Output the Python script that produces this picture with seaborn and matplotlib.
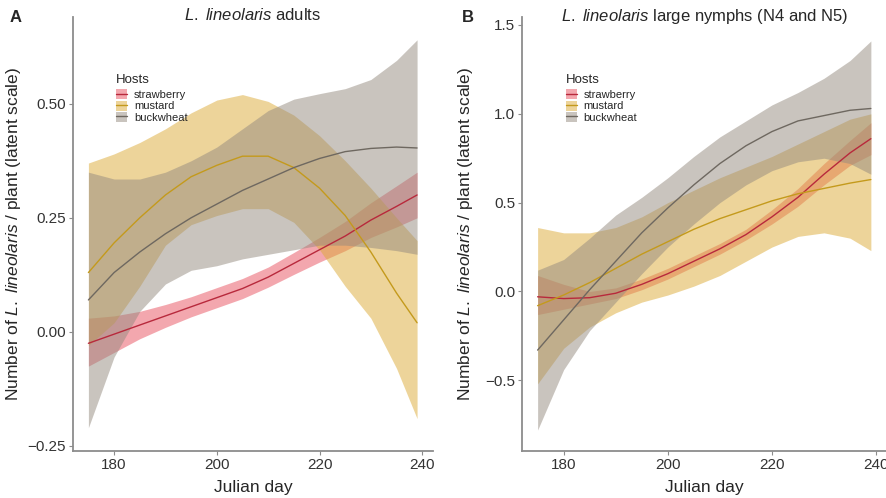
#!/usr/bin/env python3

import pandas as pd
import seaborn as sns
import matplotlib.pyplot as plt
from matplotlib.patches import Patch
from matplotlib.lines import Line2D

days = [175, 180, 185, 190, 195, 200, 205, 210, 215, 220, 225, 230, 235, 239]
hosts = ["strawberry", "mustard", "buckwheat"]

# panel A: adults
a_straw_fit = [-0.025, -0.005, 0.015, 0.035, 0.055, 0.075, 0.095, 0.12, 0.15, 0.18, 0.21, 0.245, 0.275, 0.30]
a_straw_lo = [-0.075, -0.045, -0.015, 0.010, 0.033, 0.053, 0.073, 0.098, 0.126, 0.153, 0.178, 0.207, 0.230, 0.250]
a_straw_hi = [0.030, 0.035, 0.045, 0.060, 0.077, 0.097, 0.117, 0.142, 0.174, 0.207, 0.242, 0.283, 0.320, 0.350]
a_must_fit = [0.13, 0.195, 0.25, 0.30, 0.34, 0.365, 0.385, 0.385, 0.36, 0.315, 0.255, 0.175, 0.085, 0.02]
a_must_lo = [-0.03, 0.02, 0.10, 0.19, 0.235, 0.255, 0.27, 0.27, 0.24, 0.18, 0.10, 0.03, -0.08, -0.19]
a_must_hi = [0.37, 0.39, 0.415, 0.445, 0.48, 0.508, 0.52, 0.505, 0.475, 0.43, 0.375, 0.315, 0.25, 0.20]
a_buck_fit = [0.07, 0.13, 0.175, 0.215, 0.25, 0.28, 0.31, 0.335, 0.36, 0.38, 0.395, 0.402, 0.405, 0.403]
a_buck_lo = [-0.21, -0.055, 0.045, 0.105, 0.135, 0.145, 0.16, 0.17, 0.18, 0.19, 0.19, 0.185, 0.178, 0.17]
a_buck_hi = [0.35, 0.335, 0.335, 0.35, 0.375, 0.405, 0.445, 0.485, 0.51, 0.522, 0.533, 0.553, 0.595, 0.64]

# panel B: large nymphs
b_straw_fit = [-0.03, -0.04, -0.035, -0.01, 0.04, 0.10, 0.17, 0.24, 0.32, 0.42, 0.53, 0.66, 0.78, 0.86]
b_straw_lo = [-0.13, -0.10, -0.07, -0.04, 0.01, 0.07, 0.14, 0.21, 0.29, 0.38, 0.48, 0.60, 0.71, 0.77]
b_straw_hi = [0.09, 0.04, 0.0, 0.02, 0.07, 0.13, 0.20, 0.27, 0.35, 0.46, 0.58, 0.72, 0.85, 0.95]
b_must_fit = [-0.08, -0.02, 0.05, 0.13, 0.21, 0.28, 0.35, 0.41, 0.46, 0.51, 0.55, 0.58, 0.61, 0.63]
b_must_lo = [-0.52, -0.32, -0.20, -0.12, -0.06, -0.02, 0.03, 0.09, 0.17, 0.25, 0.31, 0.33, 0.30, 0.23]
b_must_hi = [0.36, 0.33, 0.33, 0.36, 0.42, 0.50, 0.57, 0.64, 0.70, 0.76, 0.83, 0.90, 0.97, 1.00]
b_buck_fit = [-0.33, -0.16, 0.01, 0.17, 0.33, 0.47, 0.60, 0.72, 0.82, 0.90, 0.96, 0.99, 1.02, 1.03]
b_buck_lo = [-0.78, -0.44, -0.22, -0.06, 0.10, 0.25, 0.38, 0.50, 0.60, 0.68, 0.73, 0.75, 0.72, 0.66]
b_buck_hi = [0.12, 0.18, 0.30, 0.43, 0.53, 0.64, 0.76, 0.87, 0.96, 1.05, 1.12, 1.20, 1.30, 1.41]

line_cols = {"strawberry": "#B8293C", "mustard": "#C49A1C", "buckwheat": "#6E6860"}
fill_cols = {"strawberry": "#E8505E", "mustard": "#DCAA36", "buckwheat": "#948A7F"}


def build(panel, series):
    rows = []
    for host, (fit, lo, hi) in zip(hosts, series):
        for d, f, l, h in zip(days, fit, lo, hi):
            rows.append([panel, host, d, f, l, h])
    return rows


rows = build("A", [(a_straw_fit, a_straw_lo, a_straw_hi),
                   (a_must_fit, a_must_lo, a_must_hi),
                   (a_buck_fit, a_buck_lo, a_buck_hi)])
rows += build("B", [(b_straw_fit, b_straw_lo, b_straw_hi),
                    (b_must_fit, b_must_lo, b_must_hi),
                    (b_buck_fit, b_buck_lo, b_buck_hi)])
df = pd.DataFrame(rows, columns=["panel", "host", "day", "fit", "lower", "upper"])

sns.set_style("ticks")
plt.rcParams["font.family"] = ["Liberation Sans", "DejaVu Sans"]
plt.rcParams["mathtext.fontset"] = "custom"
plt.rcParams["mathtext.rm"] = "Liberation Sans"
plt.rcParams["mathtext.it"] = "Liberation Sans:italic"

fig = plt.figure(figsize=(8.87, 4.98), dpi=100)
axA = fig.add_axes([73 / 887, 47 / 498, 360 / 887, 434 / 498])
axB = fig.add_axes([522 / 887, 47 / 498, 365 / 887, 434 / 498])

ylabel = r"Number of $\mathit{L.\ lineolaris}$ / plant (latent scale)"
spine_col = "#8C8C8C"
alpha = 0.5

for ax, panel in [(axA, "A"), (axB, "B")]:
    sub = df[df.panel == panel]
    for host in hosts:
        h = sub[sub.host == host]
        ax.fill_between(h.day, h.lower, h.upper, color=fill_cols[host],
                        alpha=alpha, linewidth=0)
    sns.lineplot(data=sub, x="day", y="fit", hue="host", hue_order=hosts,
                 palette=line_cols, linewidth=1.0, legend=False, ax=ax)

    ax.set_xlim(172, 242.1)
    ax.set_xticks([180, 200, 220, 240])
    ax.set_xlabel("Julian day", fontsize=12.5)
    ax.set_ylabel(ylabel, fontsize=12.5)
    ax.xaxis.set_label_coords(0.5, -0.066)
    sns.despine(ax=ax)
    for s in ["left", "bottom"]:
        ax.spines[s].set_color(spine_col)
        ax.spines[s].set_linewidth(1.3)
    ax.tick_params(colors=spine_col, labelcolor="#333333", labelsize=11,
                   length=3, width=0.8, pad=2)

    handles = [(Patch(facecolor=fill_cols[h], alpha=alpha, linewidth=0),
                Line2D([], [], color=line_cols[h], linewidth=1.0)) for h in hosts]
    leg = ax.legend(handles, hosts, title="Hosts", loc="upper left",
                    bbox_to_anchor=(0.105, 0.875), frameon=False, borderpad=0,
                    fontsize=8, title_fontsize=9.5, handlelength=1.0,
                    handleheight=1.0, labelspacing=0.05, handletextpad=0.6,
                    alignment="left")
    leg.get_title().set_position((0, 3))

axA.set_ylim(-0.261, 0.69)
axA.set_yticks([-0.25, 0.0, 0.25, 0.50])
axA.set_yticklabels(["\u22120.25", "0.00", "0.25", "0.50"])
axA.yaxis.set_label_coords(-0.14, 0.5)

axB.set_ylim(-0.898, 1.545)
axB.set_yticks([-0.5, 0.0, 0.5, 1.0, 1.5])
axB.set_yticklabels(["\u22120.5", "0.0", "0.5", "1.0", "1.5"])
axB.yaxis.set_label_coords(-0.13, 0.5)

fig.text(253 / 887, 1 - 15 / 498, r"$\mathit{L.\ lineolaris}$ adults",
         ha="center", va="center", fontsize=12)
fig.text(705 / 887, 1 - 16 / 498,
         r"$\mathit{L.\ lineolaris}$ large nymphs (N4 and N5)",
         ha="center", va="center", fontsize=12)
fig.text(16 / 887, 1 - 18 / 498, "A", ha="center", va="center",
         fontsize=12, fontweight="bold")
fig.text(468 / 887, 1 - 18 / 498, "B", ha="center", va="center",
         fontsize=12, fontweight="bold")

plt.savefig("out.png", dpi=100)
